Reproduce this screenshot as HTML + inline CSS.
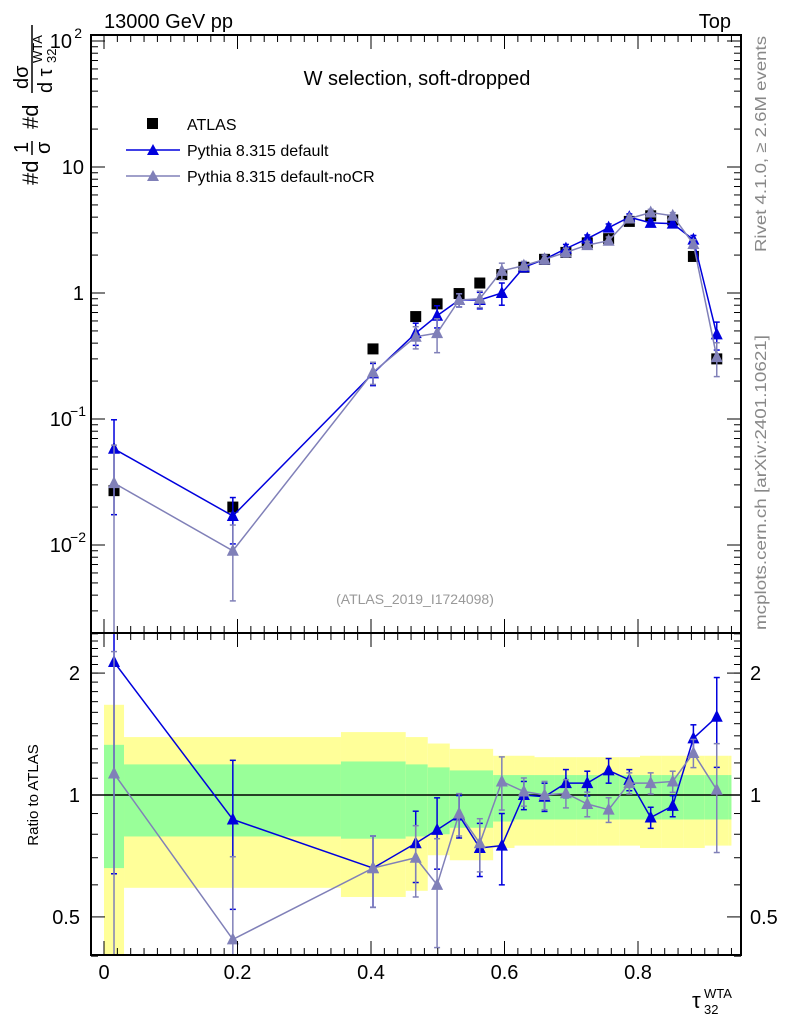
<!DOCTYPE html>
<html><head><meta charset="utf-8"><style>
body{margin:0;background:#fff;}
svg{display:block;font-family:"Liberation Sans",sans-serif;}
</style></head><body>
<svg id="c" width="786" height="1024" viewBox="0 0 786 1024">
<text x="104" y="28" font-size="20">13000 GeV pp</text>
<text x="731" y="28" font-size="20" text-anchor="end">Top</text>
<text x="417" y="85" font-size="20" text-anchor="middle">W selection, soft-dropped</text>
<text x="415" y="604" font-size="14" fill="#999" text-anchor="middle">(ATLAS_2019_I1724098)</text>
<text transform="translate(766,252) rotate(-90)" font-size="16" fill="#888" textLength="216" lengthAdjust="spacingAndGlyphs">Rivet 4.1.0, ≥ 2.6M events</text>
<text transform="translate(766,630) rotate(-90)" font-size="16" fill="#888" textLength="295" lengthAdjust="spacingAndGlyphs">mcplots.cern.ch [arXiv:2401.10621]</text>
<g transform="translate(38,185) rotate(-90)" font-size="22">
 <text x="0" y="0">#d</text>
 <text x="32" y="-10" font-size="20">1</text><line x1="30" y1="-6" x2="44" y2="-6" stroke="#000" stroke-width="1.5"/><text x="31" y="12" font-size="20">σ</text>
 <text x="56" y="0">#d</text>
 <text x="96" y="-10" font-size="20">dσ</text><line x1="92" y1="-6" x2="160" y2="-6" stroke="#000" stroke-width="1.5"/>
 <text x="92" y="14" font-size="20">d τ</text><text x="122" y="18" font-size="13">32</text><text x="122" y="4" font-size="13">WTA</text>
</g>
<text transform="translate(38,795) rotate(-90)" font-size="15" text-anchor="middle">Ratio to ATLAS</text>
<g><text x="692" y="1008" font-size="22">τ</text><text x="704" y="1014" font-size="13">32</text><text x="704" y="998" font-size="13">WTA</text></g>
<g id="main"></g><g id="ratio"></g>
<g>
 <rect x="147" y="118" width="11" height="11" fill="#000"/>
 <text x="187" y="130" font-size="16">ATLAS</text>
 <line x1="126" y1="150" x2="180" y2="150" stroke="#0000dd" stroke-width="1.5"/>
 <polygon points="153,144 147,155 159,155" fill="#0000dd"/>
 <text x="187" y="156" font-size="16">Pythia 8.315 default</text>
 <line x1="126" y1="176" x2="180" y2="176" stroke="#8080b8" stroke-width="1.5"/>
 <polygon points="153,170 147,181 159,181" fill="#8080b8"/>
 <text x="187" y="182" font-size="16">Pythia 8.315 default-noCR</text>
</g>
</svg>
<script>
const xc=[0.015,0.193,0.403,0.467,0.499,0.532,0.563,0.596,0.629,0.660,0.692,0.724,0.756,0.787,0.819,0.852,0.883,0.918];
const edges=[0,0.03,0.355,0.452,0.485,0.518,0.583,0.615,0.645,0.675,0.708,0.740,0.772,0.803,0.835,0.868,0.900,0.935,0.94];
const atlas=[0.027,0.020,0.36,0.65,0.82,0.99,1.2,1.4,1.6,1.85,2.1,2.5,2.7,3.7,4.1,3.8,1.95,0.30];
const pyDef=[0.058,0.017,0.23,0.48,0.66,0.88,0.88,1.0,1.6,1.85,2.25,2.7,3.3,4.0,3.6,3.55,2.65,0.47];
const pyNoCR=[0.031,0.009,0.235,0.45,0.48,0.88,0.9,1.5,1.65,1.85,2.1,2.4,2.6,3.9,4.35,4.1,2.45,0.31];
const errDef=[0.7,0.4,0.2,0.2,0.2,0.12,0.15,0.2,0.08,0.08,0.08,0.07,0.07,0.06,0.06,0.06,0.08,0.25];
const errNoCR=[1.0,0.6,0.2,0.2,0.3,0.12,0.15,0.15,0.08,0.08,0.08,0.07,0.07,0.06,0.06,0.06,0.08,0.3];
const ratDef=[2.13,0.87,0.66,0.76,0.82,0.89,0.74,0.75,1.0,0.99,1.07,1.07,1.15,1.09,0.88,0.94,1.38,1.56];
const ratNoCR=[1.13,0.44,0.66,0.70,0.60,0.90,0.76,1.08,1.02,1.0,1.01,0.95,0.92,1.07,1.07,1.08,1.27,1.03];
const bandY_up=[1.67,1.39,1.43,1.39,1.34,1.30,1.25,1.25,1.24,1.24,1.24,1.24,1.24,1.25,1.25,1.25,1.25,1.25];
const bandY_dn=[0.30,0.59,0.56,0.58,0.71,0.69,0.74,0.75,0.75,0.75,0.75,0.75,0.75,0.74,0.74,0.74,0.75,0.75];
const bandG_up=[1.33,1.19,1.21,1.19,1.17,1.15,1.12,1.12,1.12,1.12,1.12,1.12,1.12,1.12,1.12,1.12,1.12,1.12];
const bandG_dn=[0.66,0.79,0.78,0.79,0.80,0.83,0.86,0.87,0.87,0.87,0.87,0.87,0.87,0.87,0.87,0.87,0.87,0.87];
const ns="http://www.w3.org/2000/svg";
const X=v=>104+v*667.5;
const YM=v=>293-126*Math.log10(v);
const YR=v=>795-405*Math.log10(v);
const L=91,R=741,T=35,MB=633,RB=955;
function el(p,t,a){const e=document.createElementNS(ns,t);for(const k in a)e.setAttribute(k,a[k]);p.appendChild(e);return e;}
const gm=document.getElementById('main'),gr=document.getElementById('ratio');
for(let i=0;i<xc.length;i++){
 const x0=X(edges[i]),x1=X(edges[i+1]);
 const yb=el(gr,'rect',{x:x0,y:YR(bandY_up[i]),width:x1-x0,height:Math.min(RB,YR(bandY_dn[i]))-YR(bandY_up[i]),fill:'#ffff99'});
 
 
 const gb=el(gr,'rect',{x:x0,y:YR(bandG_up[i]),width:x1-x0,height:YR(bandG_dn[i])-YR(bandG_up[i]),fill:'#99ff99'});
 
 
}
el(gr,'line',{x1:L,x2:R,y1:YR(1),y2:YR(1),stroke:'#000','stroke-width':1.5});
function clampY(y,t,b){return Math.max(t,Math.min(b,y));}
function series(g,Y,vals,errs,col,name,t,b){
 const pts=vals.map((v,i)=>X(xc[i])+','+Y(v)).join(' ');
 const pl=el(g,'polyline',{points:pts,fill:'none',stroke:col,'stroke-width':1.5});
 
 
 vals.forEach((v,i)=>{
  const x=X(xc[i]),y=Y(v);
  const e=errs[i];
  const yt=clampY(Y(v*(1+e)),t,b),yb=clampY(Y(Math.max(v*(1-e),1e-9)),t,b);
  el(g,'line',{x1:x,x2:x,y1:yt,y2:yb,stroke:col,'stroke-width':1.5});
  el(g,'line',{x1:x-3,x2:x+3,y1:yt,y2:yt,stroke:col,'stroke-width':1.5});
  el(g,'line',{x1:x-3,x2:x+3,y1:yb,y2:yb,stroke:col,'stroke-width':1.5});
  const m=el(g,'polygon',{points:`${x},${y-7} ${x-6},${y+5} ${x+6},${y+5}`,fill:col});
  
  
 });
}
atlas.forEach((v,i)=>{const r=el(gm,'rect',{x:X(xc[i])-5.5,y:YM(v)-5.5,width:11,height:11,fill:'#000'});
 
 });
series(gm,YM,pyDef,errDef,'#0000dd','pythia-default',T,MB);
series(gm,YM,pyNoCR,errNoCR,'#8080b8','pythia-nocr',T,MB);
series(gr,YR,ratDef,errDef,'#0000dd','ratio-default',MB,RB);
series(gr,YR,ratNoCR,errNoCR,'#8080b8','ratio-nocr',MB,RB);
el(gm,'rect',{x:L,y:T,width:R-L,height:MB-T,fill:'none',stroke:'#000','stroke-width':2});
el(gr,'rect',{x:L,y:MB,width:R-L,height:RB-MB,fill:'none',stroke:'#000','stroke-width':2});
for(let d=-3;d<=2;d++){for(let k=1;k<10;k++){const v=k*Math.pow(10,d),y=YM(v);if(y<T||y>MB)continue;const len=k==1?14:7;
 el(gm,'line',{x1:L,x2:L+len,y1:y,y2:y,stroke:'#000'});el(gm,'line',{x1:R,x2:R-len,y1:y,y2:y,stroke:'#000'});}}
const mainLabels=[[100,'10','2'],[10,'10',''],[1,'1',''],[0.1,'10','−1'],[0.01,'10','−2']];
mainLabels.forEach(([v,b,e])=>{const t=el(gm,'text',{x:e?72:84,y:YM(v)+7,'font-size':20,'text-anchor':'end'});t.textContent=b;
 if(e){const s=el(gm,'text',{x:e.length>1?86:82,y:YM(v)-3,'font-size':14,'text-anchor':'end'});s.textContent=e;}});
[0.4,0.5,0.6,0.7,0.8,0.9,1,2].forEach(v=>{const y=YR(v),len=(v==1||v==2||v==0.5)?14:7;
 el(gr,'line',{x1:L,x2:L+len,y1:y,y2:y,stroke:'#000'});el(gr,'line',{x1:R,x2:R-len,y1:y,y2:y,stroke:'#000'});});
for(let k=11;k<=25;k++){const v=k/10,y=YR(v);if(y<MB)continue;el(gr,'line',{x1:L,x2:L+7,y1:y,y2:y,stroke:'#000'});el(gr,'line',{x1:R,x2:R-7,y1:y,y2:y,stroke:'#000'});}
[[2,'2'],[1,'1'],[0.5,'0.5']].forEach(([v,s])=>{const a=el(gr,'text',{x:80,y:YR(v)+7,'font-size':20,'text-anchor':'end'});a.textContent=s;
 const b=el(gr,'text',{x:750,y:YR(v)+7,'font-size':20});b.textContent=s;});
for(let k=0;k<=47;k++){const v=k*0.02,x=X(v);if(x>R)break;const len=k%10==0?14:7;
 el(gm,'line',{x1:x,x2:x,y1:MB,y2:MB-len,stroke:'#000'});el(gm,'line',{x1:x,x2:x,y1:T,y2:T+len,stroke:'#000'});
 el(gr,'line',{x1:x,x2:x,y1:RB,y2:RB-len,stroke:'#000'});el(gr,'line',{x1:x,x2:x,y1:MB,y2:MB+len,stroke:'#000'});}
['0','0.2','0.4','0.6','0.8'].forEach((s,i)=>{const t=el(gr,'text',{x:X(i*0.2),y:979,'font-size':20,'text-anchor':'middle'});t.textContent=s;});
</script>
</body></html>
